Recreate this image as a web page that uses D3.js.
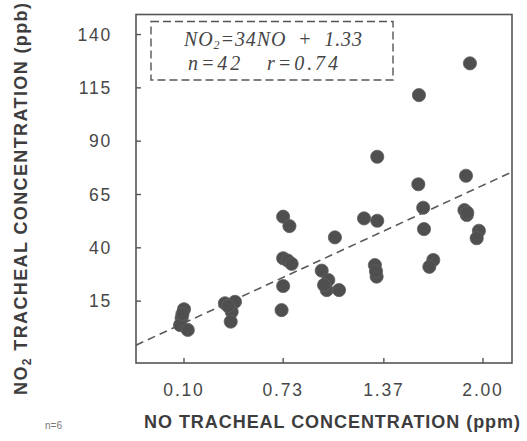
<!DOCTYPE html>
<html>
<head>
<meta charset="utf-8">
<script src="https://cdn.jsdelivr.net/npm/d3@7"></script>
<style>
  html, body { margin: 0; padding: 0; background: #fff; }
  svg { display: block; }
  .tick-label { font-family: "Liberation Sans", Arial, sans-serif; font-size: 17.5px; fill: #474747; letter-spacing: 1.8px; }
  .axis-title { font-family: "Liberation Sans", Arial, sans-serif; font-weight: bold; font-size: 18px; fill: #3d3d3d; }
  .eq { font-family: "Liberation Serif", serif; font-style: italic; font-size: 20px; fill: #454545; white-space: pre; }
</style>
</head>
<body>
<svg id="chart" width="527" height="441"></svg>
<script>
// tick labels
const xTicks = [0.10, 0.73, 1.37, 2.00];
const yTicks = [15, 40, 65, 90, 115, 140];

// NO (ppm) and NO2 (ppb) tracheal concentrations
const noValues = [
  0.10, 0.085, 0.075, 0.124, 0.09,
  0.36, 0.424, 0.403, 0.397, 0.38,
  0.73, 0.72, 0.73, 0.77, 0.73, 0.76, 0.784,
  0.975, 1.017, 1.007, 1.085, 0.99, 1.059,
  1.244, 1.328, 1.328, 1.313, 1.324, 1.32,
  1.589, 1.62, 1.625, 1.684, 1.659, 1.593, 1.917,
  1.892, 1.882, 1.897, 1.974, 1.96, 1.90
];
const no2Values = [
  11.2, 7.0, 3.8, 1.5, 9.0,
  14.0, 14.7, 10.0, 5.4, 12.7,
  22.1, 10.8, 54.6, 50.2, 35.1, 34.0, 32.5,
  29.3, 24.9, 20.2, 20.2, 22.6, 44.9,
  53.8, 52.7, 82.7, 31.9, 26.5, 29.0,
  69.8, 58.8, 48.8, 34.3, 31.1, 111.6, 126.5,
  73.8, 57.7, 55.4, 48.0, 44.5, 56.5
];

// regression: NO2 = 34 NO + 1.33
const slope = 34, intercept = 1.33;
const eqLine1 = ["NO", "2", "=34NO  +  1.33"];
const eqLine2 = "n=42   r=0.74";

const svg = d3.select('#chart');
const fLeft = 136, fRight = 512, fTop = 14.5, fBottom = 363;

const x = d3.scaleLinear().domain([0.10, 2.00]).range([184, 483]);
const xDom = [x.invert(fLeft), x.invert(fRight)];
const y = d3.scaleLinear().domain([-14, 149.4]).range([fBottom, fTop]);

const ink = '#555';

// regression line (clipped to frame)
svg.append('clipPath').attr('id', 'clip')
  .append('rect').attr('x', fLeft).attr('y', fTop).attr('width', fRight - fLeft).attr('height', fBottom - fTop);
svg.append('line')
  .attr('clip-path', 'url(#clip)')
  .attr('x1', x(xDom[0])).attr('y1', y(slope * xDom[0] + intercept))
  .attr('x2', x(xDom[1])).attr('y2', y(slope * xDom[1] + intercept))
  .attr('stroke', '#5a5a5a').attr('stroke-width', 1.6).attr('stroke-dasharray', '8,5');

// points
const pts = noValues.map((v, i) => ({x: v, y: no2Values[i]}));
svg.append('g').selectAll('circle')
  .data(pts)
  .join('circle')
    .attr('cx', d => x(d.x))
    .attr('cy', d => y(d.y))
    .attr('r', 6.6)
    .attr('fill', '#4f4f4f')
    .attr('stroke', '#606060')
    .attr('stroke-width', 0.8);

// frame
svg.append('rect')
  .attr('x', fLeft).attr('y', fTop).attr('width', fRight - fLeft).attr('height', fBottom - fTop)
  .attr('fill', 'none').attr('stroke', ink).attr('stroke-width', 1.6);

// y ticks (inward) + labels
const yAxis = svg.append('g');
yTicks.forEach(t => {
  yAxis.append('line').attr('x1', fLeft).attr('x2', fLeft + 5)
    .attr('y1', y(t)).attr('y2', y(t)).attr('stroke', ink).attr('stroke-width', 1.4);
  yAxis.append('text').attr('class', 'tick-label')
    .attr('x', 112).attr('y', y(t)).attr('dy', '0.36em')
    .attr('text-anchor', 'end').text(t);
});

// x ticks (inward) + labels
const xAxis = svg.append('g');
xTicks.forEach(t => {
  xAxis.append('line').attr('x1', x(t)).attr('x2', x(t))
    .attr('y1', fBottom).attr('y2', fBottom - 5).attr('stroke', ink).attr('stroke-width', 1.4);
  xAxis.append('text').attr('class', 'tick-label')
    .attr('x', x(t)).attr('y', 396)
    .attr('text-anchor', 'middle').text(t.toFixed(2));
});

// axis titles
svg.append('text').attr('class', 'axis-title')
  .attr('x', 332).attr('y', 428).attr('text-anchor', 'middle')
  .attr('textLength', 376).attr('lengthAdjust', 'spacing')
  .text('NO TRACHEAL CONCENTRATION (ppm)');

const yt = svg.append('text').attr('class', 'axis-title')
  .attr('transform', 'translate(27,199) rotate(-90)')
  .attr('text-anchor', 'middle')
  .attr('textLength', 392).attr('lengthAdjust', 'spacing');
yt.append('tspan').text('NO');
yt.append('tspan').attr('font-size', 12).attr('dy', 4).text('2');
yt.append('tspan').attr('dy', -4).text(' TRACHEAL CONCENTRATION (ppb)');

svg.append('text')
  .attr('x', 45).attr('y', 429)
  .attr('font-family', 'Liberation Sans, Arial, sans-serif')
  .attr('font-size', 10).attr('fill', '#777')
  .text('n=6');

// equation box
svg.append('rect')
  .attr('x', 151).attr('y', 21.5).attr('width', 242).attr('height', 58.5)
  .attr('fill', 'none').attr('stroke', ink).attr('stroke-width', 1.4)
  .attr('stroke-dasharray', '8,4');

const eq1 = svg.append('text').attr('class', 'eq')
  .attr('x', 184).attr('y', 46)
  .attr('textLength', 178).attr('lengthAdjust', 'spacing');
eq1.append('tspan').text(eqLine1[0]);
eq1.append('tspan').attr('font-size', 12).attr('dy', 3).text(eqLine1[1]);
eq1.append('tspan').attr('dy', -3).text(eqLine1[2]);

svg.append('text').attr('class', 'eq')
  .attr('x', 188).attr('y', 70)
  .attr('textLength', 150).attr('lengthAdjust', 'spacing')
  .text(eqLine2);
</script>
</body>
</html>
